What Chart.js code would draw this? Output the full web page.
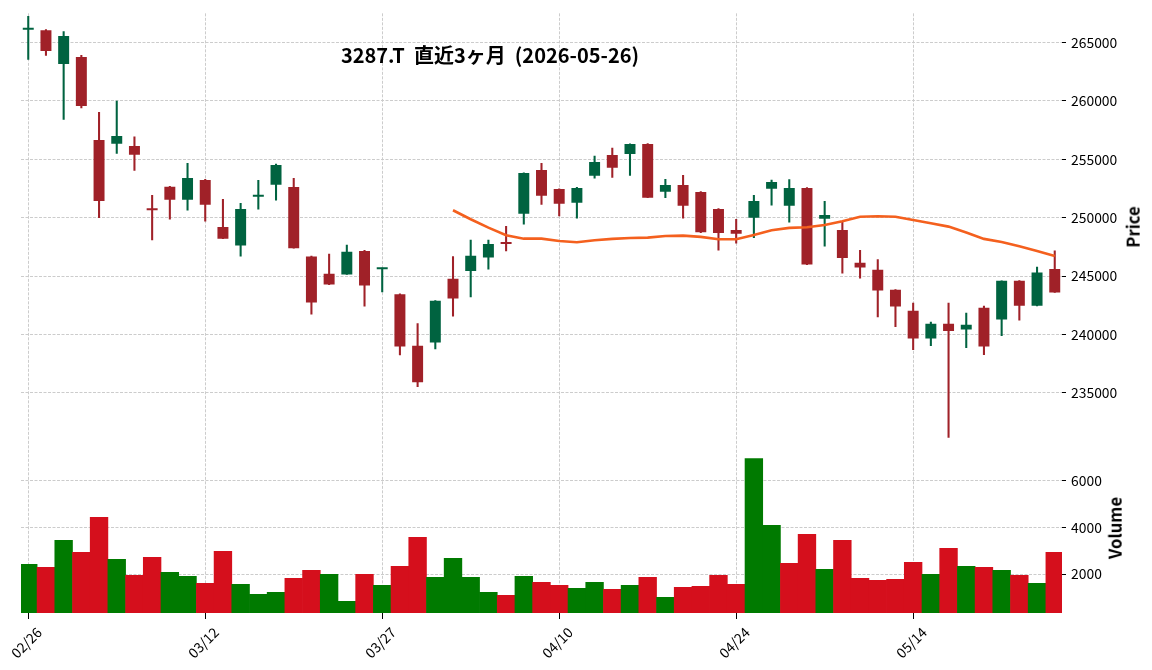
<!DOCTYPE html>
<html><head><meta charset="utf-8">
<script src="https://cdn.jsdelivr.net/npm/chart.js@4/dist/chart.umd.min.js"></script>
<style>
html,body{margin:0;padding:0;background:#fff;}
#wrap{position:relative;width:1152px;height:670px;overflow:hidden;background:#fff;}
canvas{position:absolute;left:0;top:0;}
.lbl{position:absolute;font-family:'Noto Sans CJK JP',sans-serif;font-weight:bold;color:#000;white-space:pre;line-height:1;}
</style></head><body>
<div id="wrap">
<canvas id="c" width="1152" height="670"></canvas>
<div class="lbl" style="left:490px;top:55px;font-size:20px;transform:translate(-50%,-50%);">3287.T  直近3ヶ月  (2026-05-26)</div>
<div class="lbl" style="left:1133px;top:227px;font-size:16.7px;transform:translate(-50%,-50%) rotate(-90deg);">Price</div>
<div class="lbl" style="left:1115px;top:528px;font-size:16.7px;transform:translate(-50%,-50%) rotate(-90deg);">Volume</div>
</div>
<script>
const dates = ['02/26','02/27','03/02','03/03','03/04','03/05','03/06','03/09','03/10','03/11',
'03/12','03/13','03/16','03/17','03/18','03/19','03/23','03/24','03/25','03/26',
'03/27','03/30','03/31','04/01','04/02','04/03','04/06','04/07','04/08','04/09',
'04/10','04/13','04/14','04/15','04/16','04/17','04/20','04/21','04/22','04/23',
'04/24','04/27','04/28','04/30','05/01','05/07','05/08','05/11','05/12','05/13',
'05/14','05/15','05/18','05/19','05/20','05/21','05/22','05/25','05/26'];

const open = [266100,266050,263170,263770,256650,256330,256140,250700,252660,251550,
253230,249210,247620,251790,252830,252630,246680,245200,245140,247160,
245600,243460,239040,239325,244770,245450,246590,247850,250350,254090,
252460,251290,253600,255370,255450,256310,252230,252800,252200,250750,
248960,250010,252490,251030,252550,249920,248960,246140,245540,243830,
242030,239670,240920,240440,242290,241290,244600,242460,245620];
const high = [267250,266100,265940,263910,259020,259980,256930,251920,252700,254660,
253280,251580,251240,253210,254600,253380,246720,246880,247650,247220,
245700,243480,240950,242900,246680,248080,248080,249270,253840,254660,
252480,252600,255280,255970,256330,256350,253290,253630,252230,250780,
249870,251920,253230,253260,252580,251410,249670,247220,246420,243860,
242690,241070,242690,241840,242440,244600,244620,245770,247160];
const low = [263550,263890,258420,259410,250000,255510,254060,248100,249870,250640,
249700,248210,246710,250730,251500,247390,241750,244280,245140,242440,
243660,238250,235540,238760,241580,243230,245600,247160,249440,251150,
250150,249960,253380,253460,253630,251720,251720,249970,248730,247220,
247820,248300,251070,249620,245990,247560,245260,244830,241520,240670,
238700,239040,231200,238870,238270,239900,241240,242460,243600];
const close = [266150,264280,265560,259560,251440,256990,255390,250640,251550,253400,
251120,248210,250750,251840,254510,247390,242740,244280,247080,244200,
245650,238980,235910,242890,243090,246740,247760,247750,253830,251890,
251200,252550,254770,254280,256310,251720,252800,251030,248750,248700,
248640,251440,253060,252550,245990,250240,246560,245740,243770,242400,
239670,240920,240300,240840,238980,244600,242460,245310,243600];
const volume = [2415,2287,3443,2929,4428,2630,1944,2715,2073,1901,
1602,2972,1559,1131,1216,1816,2158,1987,830,1987,
1516,2330,3572,1859,2672,1859,1216,1088,1901,1645,
1516,1388,1645,1345,1516,1859,1002,1430,1473,1944,
1559,6943,4086,2458,3700,2201,3443,1816,1730,1773,
2501,1987,3100,2330,2287,2158,1944,1602,2929];
// 25-day moving average (starts at index 24)
const maStart = 24;
const ma25 = [250640,249870,249150,248500,248210,248210,248010,247900,248080,248190,
248270,248300,248440,248470,248360,248160,248160,248530,248930,249130,
249190,249380,249700,250090,250130,250090,249810,249530,249240,248730,
248190,247930,247560,247160,246730];
const xTickIdx = [0,10,20,30,40,50];
const priceTicks = [235000,240000,245000,250000,255000,260000,265000];
const volTicks = [2000,4000,6000];

const UP = '#006340', DOWN = '#a02128', VUP = '#007a00', VDOWN = '#d50f1c', MA = '#f4601e';
const FONT = "'Noto Sans CJK JP', sans-serif";
const GRID = '#cccccc';

const candleColors = dates.map((d,i)=> close[i] >= open[i] ? UP : DOWN);
const volColors = dates.map((d,i)=> (i===0 ? close[i] >= open[i] : close[i] >= close[i-1]) ? VUP : VDOWN);

Chart.defaults.font.family = FONT;
Chart.defaults.color = '#000';

new Chart(document.getElementById('c'), {
  data: {
    datasets: [
      {type:'line', label:'MA25', yAxisID:'yPrice', order:0,
       data: ma25.map((v,k)=>({x:maStart+k, y:v})),
       borderColor: MA, borderWidth: 2.6, pointRadius: 0, tension: 0, fill:false},
      {type:'bar', label:'body', yAxisID:'yPrice', order:1, grouped:false,
       data: dates.map((d,i)=>({x:i, y:[open[i], close[i]]})),
       backgroundColor: candleColors, borderWidth:0,
       barPercentage:0.62, categoryPercentage:1, minBarLength:2},
      {type:'bar', label:'wick', yAxisID:'yPrice', order:2, grouped:false,
       data: dates.map((d,i)=>({x:i, y:[low[i], high[i]]})),
       backgroundColor: candleColors, borderWidth:0, barThickness:1.4},
      {type:'bar', label:'Volume', yAxisID:'yVol', order:3, grouped:false,
       data: dates.map((d,i)=>({x:i, y:volume[i]})),
       backgroundColor: volColors, borderWidth:0,
       barPercentage:1, categoryPercentage:1}
    ]
  },
  options: {
    responsive:false, animation:false,
    layout:{padding:{left:21, top:12, right:0, bottom:0}},
    plugins:{legend:{display:false}, tooltip:{enabled:false}, title:{display:false}},
    scales:{
      x:{type:'linear', min:-0.41, max:58.41, offset:false,
         afterBuildTicks: ax => { ax.ticks = xTickIdx.map(v=>({value:v})); },
         afterFit: s => { s.height = 57; s.paddingLeft = 0; s.paddingRight = 0; },
         ticks:{autoSkip:false, minRotation:45, maxRotation:45, labelOffset:11, padding:5,
                font:{size:13.9}, color:'#000', callback: v => dates[v]},
         grid:{offset:false, color:GRID, lineWidth:1, tickColor:'#000', tickLength:6, tickWidth:1},
         border:{display:false, dash:[3,1.5]}},
      yPrice:{type:'linear', position:'right', stack:'s', stackWeight:5,
         min:230830, max:267500,
         afterBuildTicks: ax => { ax.ticks = priceTicks.map(v=>({value:v})); },
         afterFit: s => { s.width = 90; },
         ticks:{padding:5, font:{size:13.9}, color:'#000', callback: v => String(v)},
         grid:{color:GRID, lineWidth:1, tickColor:'#000', tickLength:4, tickWidth:1},
         border:{display:false, dash:[3,1.5]}},
      yVol:{type:'linear', position:'right', stack:'s', stackWeight:2,
         min:330, max:7670,
         afterBuildTicks: ax => { ax.ticks = volTicks.map(v=>({value:v})); },
         afterFit: s => { s.width = 90; },
         ticks:{padding:5, font:{size:13.9}, color:'#000', callback: v => String(v)},
         grid:{color:GRID, lineWidth:1, tickColor:'#000', tickLength:4, tickWidth:1},
         border:{display:false, dash:[3,1.5]}}
    }
  }
});
</script>
</body></html>
